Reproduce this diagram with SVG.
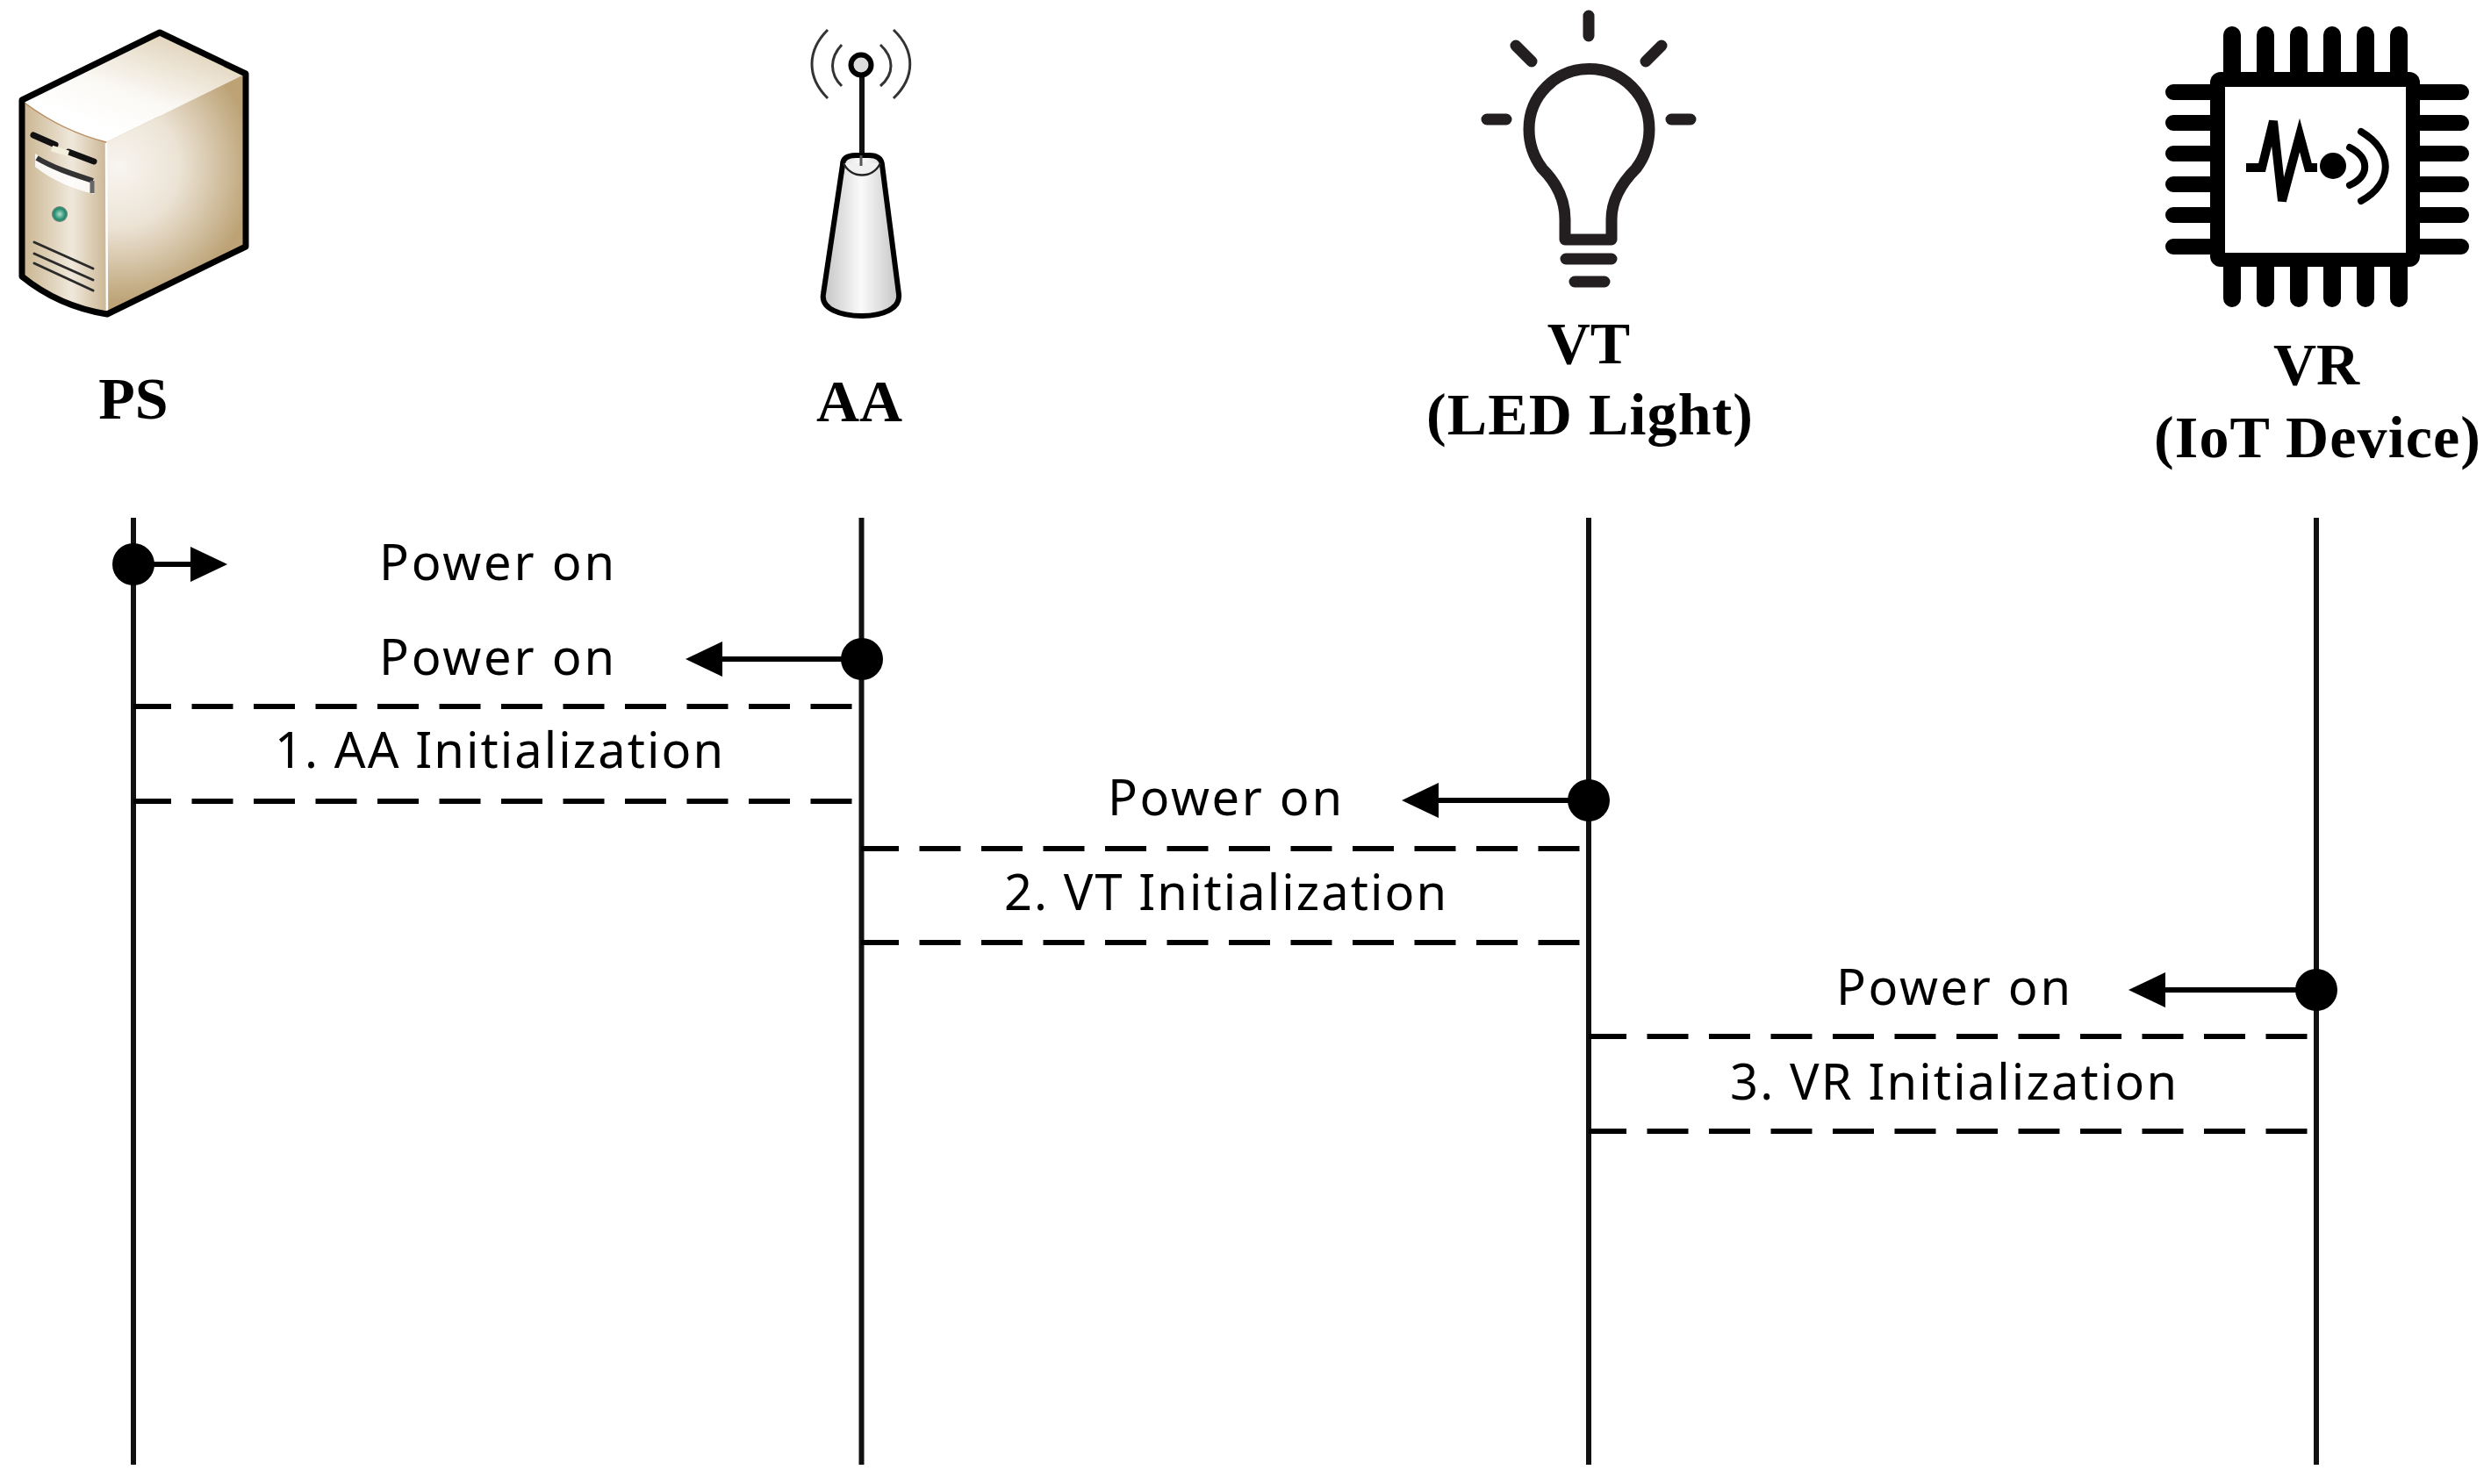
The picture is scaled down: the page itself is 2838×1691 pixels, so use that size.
<svg xmlns="http://www.w3.org/2000/svg" width="2838" height="1691" viewBox="0 0 2838 1691">
<style>
.hdr{font-family:"Liberation Serif","Times New Roman",serif;font-weight:700;font-size:68px;fill:#000;text-anchor:middle}
.lbl{font-family:"Noto Sans","Open Sans",sans-serif;font-size:56px;fill:#000}
.life{stroke:#111;stroke-width:6;fill:none}
.dash{stroke:#000;stroke-width:6;fill:none;stroke-dasharray:47 23.5;stroke-dashoffset:4}
.msg{stroke:#000;stroke-width:6;fill:none;marker-end:url(#ah)}
.dot{fill:#000}
.bulb{stroke:#231f20;stroke-width:13;fill:none;stroke-linecap:round;stroke-linejoin:round}
.pin{stroke:#000;stroke-linecap:round;fill:none}
.wave{stroke:#333;stroke-width:3;fill:none}
.vent{stroke:#2a2a2a;stroke-width:3;fill:none;stroke-linecap:round}
</style>
<defs>
<marker id="ah" markerUnits="userSpaceOnUse" markerWidth="42" markerHeight="40" refX="0" refY="20" orient="auto"><path d="M0 0L42 20L0 40Z" fill="#000"/></marker>
<linearGradient id="top" gradientUnits="userSpaceOnUse" x1="170" y1="40" x2="130" y2="150"><stop offset="0" stop-color="#e4d8c2"/><stop offset=".6" stop-color="#fbf9f5"/><stop offset="1" stop-color="#fff"/></linearGradient>
<linearGradient id="front" gradientUnits="userSpaceOnUse" x1="25" y1="0" x2="120" y2="0"><stop offset="0" stop-color="#c9b48f"/><stop offset=".6" stop-color="#efe8db"/><stop offset="1" stop-color="#cdb998"/></linearGradient>
<radialGradient id="side" gradientUnits="userSpaceOnUse" cx="135" cy="190" r="155"><stop offset="0" stop-color="#f8f5f0"/><stop offset=".45" stop-color="#ece3d5"/><stop offset="1" stop-color="#bca275"/></radialGradient>
<radialGradient id="led" cx=".5" cy=".5" r=".5"><stop offset="0" stop-color="#b8ded0"/><stop offset=".7" stop-color="#1e8f6e"/><stop offset="1" stop-color="#6f7f78"/></radialGradient>
<linearGradient id="cone" x1="0" y1="0" x2="1" y2="0"><stop offset="0" stop-color="#c4c4c4"/><stop offset=".5" stop-color="#fafafa"/><stop offset="1" stop-color="#c4c4c4"/></linearGradient>
</defs>
<rect width="2838" height="1691" fill="#fff"/>

<g id="connectors">
<line class="life" x1="152" y1="590" x2="152" y2="1669"/>
<line class="life" x1="981.500" y1="590" x2="981.500" y2="1669"/>
<line class="life" x1="1810" y1="590" x2="1810" y2="1669"/>
<line class="life" x1="2639" y1="590" x2="2639" y2="1669"/>
<line class="msg" x1="152" y1="643" x2="217" y2="643"/>
<line class="msg" x1="981" y1="751" x2="823" y2="751"/>
<line class="msg" x1="1810" y1="912" x2="1639" y2="912"/>
<line class="msg" x1="2639" y1="1128" x2="2467" y2="1128"/>
<line class="dash" x1="152" y1="805" x2="972" y2="805"/>
<line class="dash" x1="152" y1="913" x2="972" y2="913"/>
<line class="dash" x1="981" y1="967" x2="1801" y2="967"/>
<line class="dash" x1="981" y1="1074" x2="1801" y2="1074"/>
<line class="dash" x1="1810" y1="1181" x2="2630" y2="1181"/>
<line class="dash" x1="1810" y1="1289" x2="2630" y2="1289"/>
<circle class="dot" cx="152" cy="643" r="24"/>
<circle class="dot" cx="982" cy="751" r="24"/>
<circle class="dot" cx="1810" cy="912" r="24"/>
<circle class="dot" cx="2639" cy="1128" r="24"/>
</g>

<g id="labels">
<text class="lbl" x="432" y="661" textLength="268" lengthAdjust="spacing">Power on</text>
<text class="lbl" x="432" y="769" textLength="268" lengthAdjust="spacing">Power on</text>
<text class="lbl" x="313" y="875" textLength="511" lengthAdjust="spacing">1. AA Initialization</text>
<text class="lbl" x="1262" y="929" textLength="267" lengthAdjust="spacing">Power on</text>
<text class="lbl" x="1144" y="1037" textLength="504" lengthAdjust="spacing">2. VT Initialization</text>
<text class="lbl" x="2092" y="1145" textLength="267" lengthAdjust="spacing">Power on</text>
<text class="lbl" x="1971" y="1253" textLength="509" lengthAdjust="spacing">3. VR Initialization</text>
</g>

<g id="node-ps">
<path d="M25 114L182 37V282L122 358C85 352 52 337 25 315Z" fill="url(#front)"/>
<path d="M25 114L182 37L280 84L121 162C85 153 52 135 25 114Z" fill="url(#top)"/>
<path d="M121 162L280 84V281L122 358Z" fill="url(#side)"/>
<path d="M29 118C52 135 85 153 121 162" fill="none" stroke="#b98f62" stroke-width="1.500"/>
<line x1="121" y1="163" x2="122" y2="354" stroke="#fff" stroke-width="2.500"/>
<path d="M25 114L182 37L280 84V281L122 358C85 352 52 337 25 315Z" fill="none" stroke="#000" stroke-width="7" stroke-linejoin="round"/>
<path d="M38 154L63 165M78 173L107 184" stroke="#111" stroke-width="7" fill="none" stroke-linecap="round"/>
<path d="M59 169L78 175" stroke="#f2efdf" stroke-width="7" fill="none"/>
<path d="M40 175C62 190 85 197 107 204V221C85 216 60 206 40 190Z" fill="#fff" opacity=".85"/>
<path d="M42 180C62 192 85 199 106 206" stroke="#333" stroke-width="6" fill="none"/>
<line x1="105" y1="206" x2="105" y2="220" stroke="#666" stroke-width="5"/>
<circle cx="68" cy="244" r="9" fill="url(#led)"/>
<path class="vent" d="M39 276L106 306M39 289L106 319M39 300L106 331"/>
</g>

<g id="node-aa">
<path class="wave" d="M943 34C919 58 919 88 943 112M959 51C945 66 945 84 959 98M1003 51C1019 66 1019 84 1003 98M1018 34C1043 58 1043 88 1018 112"/>
<line x1="982" y1="86" x2="982" y2="180" stroke="#111" stroke-width="6"/>
<circle cx="981" cy="74" r="11.500" fill="#ddd" stroke="#000" stroke-width="6"/>
<path d="M960 188Q960 177 975 177H990Q1004 177 1005 188L1024 335C1026 352 1005 360 982 360C958 360 935 352 938 335Z" fill="url(#cone)" stroke="#000" stroke-width="6" stroke-linejoin="round"/>
<path d="M961 186C970 204 994 204 1003 186" fill="#f0f0f0" stroke="#222" stroke-width="2.500"/>
<line x1="981" y1="177" x2="981" y2="189" stroke="#555" stroke-width="3"/>
</g>

<g id="node-vt">
<path class="bulb" d="M1810 18V41M1727 52L1745 70M1893 52L1875 70M1694 136H1716M1904 136H1926M1783 273V250C1783 225 1770 205 1757 192C1748 180 1742 165 1742 147A68.500 68.500 0 0 1 1879 147C1879 165 1873 180 1864 192C1851 205 1836 225 1836 250V273ZM1784 295H1836M1794 321H1828"/>
<text class="hdr" x="1810" y="414">VT</text>
<text class="hdr" x="1811" y="495" textLength="372" lengthAdjust="spacing">(LED Light)</text>
</g>

<g id="node-vr">
<path class="pin" stroke-width="20" d="M2543 40V340M2581 40V340M2619 40V340M2657 40V340M2695 40V340M2733 40V340"/>
<path class="pin" stroke-width="18" d="M2476 105H2804M2476 140H2804M2476 175H2804M2476 210H2804M2476 245H2804M2476 281H2804"/>
<rect x="2518" y="82" width="239" height="222" rx="12" fill="#000"/>
<rect x="2535" y="99" width="206" height="189" fill="#fff"/>
<path d="M2559 191H2577L2590 138L2600 229L2620 154L2630 191H2640" fill="none" stroke="#000" stroke-width="10"/>
<circle cx="2658" cy="189" r="15" fill="#000"/>
<path d="M2677 168C2700 180 2700 200 2677 211M2690 150C2727 172 2727 208 2690 229" fill="none" stroke="#000" stroke-width="8" stroke-linecap="round"/>
<text class="hdr" x="2639" y="438">VR</text>
<text class="hdr" x="2640" y="521" textLength="372" lengthAdjust="spacing">(IoT Device)</text>
</g>
<text class="hdr" x="152" y="477">PS</text>
<text class="hdr" x="979" y="480">AA</text>
</svg>
